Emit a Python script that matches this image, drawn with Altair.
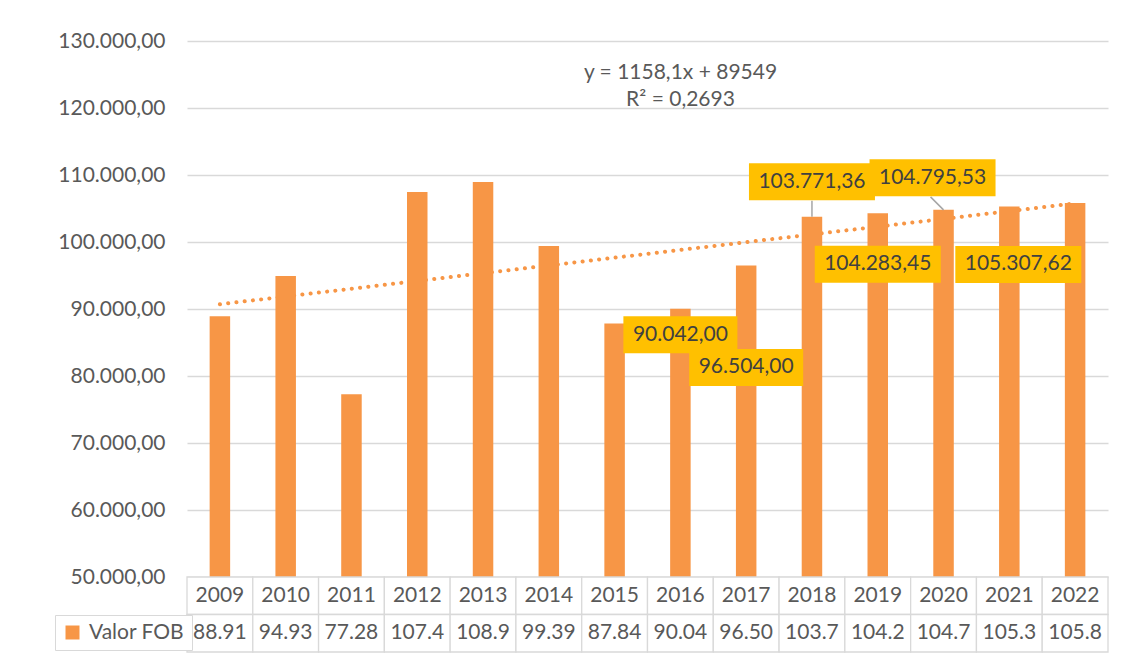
import altair as alt
import pandas as pd

# ---------------- data ----------------
years = [2009, 2010, 2011, 2012, 2013, 2014, 2015, 2016, 2017, 2018, 2019, 2020, 2021, 2022]
valor_fob = [88910, 94930, 77280, 107480, 108940, 99390, 87840, 90042, 96504,
             103771.36, 104283.45, 104795.53, 105307.62, 105819.70]
series_name = "Valor FOB"
y_ticks = [50000, 60000, 70000, 80000, 90000, 100000, 110000, 120000, 130000]
trend_text = ["y = 1158,1x + 89549", "R² = 0,2693"]
labeled_years = [2016, 2017, 2018, 2019, 2020, 2021]

df = pd.DataFrame({"year": years, "value": valor_fob, "serie": series_name})

# ---------------- style ----------------
FONT = "Lato"
BAR = "#F79646"
BOX = "#FFC000"
GRID = "#D9D9D9"
TXT = "#595959"
LBL = "#404040"
W, H = 921, 536

# label box offsets (pixels) and box widths
label_style = {
    2016: dict(dx=0, dy=26, w=114),
    2017: dict(dx=0, dy=102, w=114),
    2018: dict(dx=0, dy=-35, w=126),
    2019: dict(dx=0, dy=51, w=126),
    2020: dict(dx=-11, dy=-32, w=126),
    2021: dict(dx=9, dy=58, w=126),
}
BOX_H = 37

x_scale = alt.Scale(paddingInner=0, paddingOuter=0)
x_enc = alt.X("year:O", scale=x_scale, axis=None)
y_enc = alt.Y(
    "value:Q",
    scale=alt.Scale(domain=[50000, 130000], zero=False, nice=False),
    axis=alt.Axis(values=y_ticks, format=",.2f", title=None, labelFont=FONT,
                  labelFontSize=21, labelColor=TXT, ticks=False, domain=False,
                  labelPadding=22, gridColor=GRID, gridWidth=1.3),
)

base = alt.Chart(df)

trend = (
    base.transform_calculate(idx="datum.year - 2008")
    .transform_regression("idx", "value")
    .transform_calculate(year="datum.idx + 2008")
    .mark_line(color=BAR, strokeDash=[0.1, 8.2], strokeCap="round", strokeWidth=4)
    .encode(x=x_enc, y=y_enc)
)

bars = base.mark_bar(width=20.5, clip=True).encode(
    x=x_enc,
    y=y_enc,
    y2=alt.datum(50000),
    color=alt.Color(
        "serie:N",
        scale=alt.Scale(range=[BAR]),
        legend=alt.Legend(title=None, orient="none", legendX=-132, legendY=574,
                          symbolType="square", symbolSize=196, symbolStrokeWidth=0,
                          labelFont=FONT, labelFontSize=21, labelColor=TXT,
                          labelOffset=6, padding=7, strokeColor=GRID,
                          fillColor="white", cornerRadius=0),
    ),
)

rule2018 = (
    base.transform_filter("datum.year == 2018")
    .mark_rule(color="#A6A6A6", strokeWidth=1.5, y2Offset=-16)
    .encode(x=x_enc, y=y_enc, y2="value:Q")
)
rule2020 = (
    base.transform_filter("datum.year == 2020")
    .mark_rule(color="#A6A6A6", strokeWidth=1.5, x2Offset=-13, y2Offset=-13)
    .encode(x=x_enc, x2="year:O", y=y_enc, y2="value:Q")
)

boxes, texts = [], []
for yr in labeled_years:
    st = label_style[yr]
    h = BOX_H / st["w"]
    path = f"M-1,{-h:.4f}H1V{h:.4f}H-1Z"
    sub = base.transform_filter(f"datum.year == {yr}")
    boxes.append(
        sub.mark_point(shape=path, size=st["w"] ** 2, filled=True, color=BOX,
                       opacity=1, strokeWidth=0, xOffset=st["dx"], yOffset=st["dy"])
        .encode(x=x_enc, y=y_enc)
    )
    texts.append(
        sub.mark_text(dx=st["dx"], dy=st["dy"], font=FONT, fontSize=21, color=LBL,
                      align="center", baseline="middle")
        .encode(x=x_enc, y=y_enc, text=alt.Text("value:Q", format=",.2f"))
    )

top = alt.layer(trend, bars, rule2018, rule2020, *boxes, *texts).properties(
    width=W,
    height=H,
    title=alt.TitleParams(text=trend_text[0], subtitle=trend_text[1], anchor="middle",
                          font=FONT, fontSize=21, fontWeight="normal", color=TXT,
                          subtitleFont=FONT, subtitleFontSize=21, subtitleColor=TXT,
                          subtitlePadding=6, offset=-80, dx=33),
)

# ---------------- data table ----------------
tbase = alt.Chart(df)
ty = alt.Y("row:N", axis=None, scale=alt.Scale(domain=["a", "b"]))
cells = []
for r in ["a", "b"]:
    cells.append(
        tbase.transform_calculate(row=f"'{r}'")
        .mark_rect(fill="white", stroke=GRID, strokeWidth=1.3)
        .encode(x=x_enc, y=ty)
    )
year_txt = (
    tbase.transform_calculate(row="'a'")
    .mark_text(font=FONT, fontSize=21, color=TXT)
    .encode(x=x_enc, y=ty, text=alt.Text("year:N"))
)
val_txt = (
    tbase.transform_calculate(row="'b'", lab="substring(format(datum.value, ',.2f'), 0, 5)")
    .mark_text(font=FONT, fontSize=21, color=TXT)
    .encode(x=x_enc, y=ty, text=alt.Text("lab:N"))
)
table = alt.layer(*cells, year_txt, val_txt).properties(width=W, height=75)

chart = (
    alt.vconcat(top, table, spacing=0, bounds="flush")
    .properties(padding={"left": 46, "top": 22, "right": 5, "bottom": 0}, background="white")
    .configure(locale=alt.Locale(number=alt.NumberLocale(decimal=",", thousands=".",
                                                         grouping=[3], currency=["", ""])))
    .configure_view(stroke=None)
)

chart.save("out.html", embed_options={"renderer": "svg", "actions": False})
